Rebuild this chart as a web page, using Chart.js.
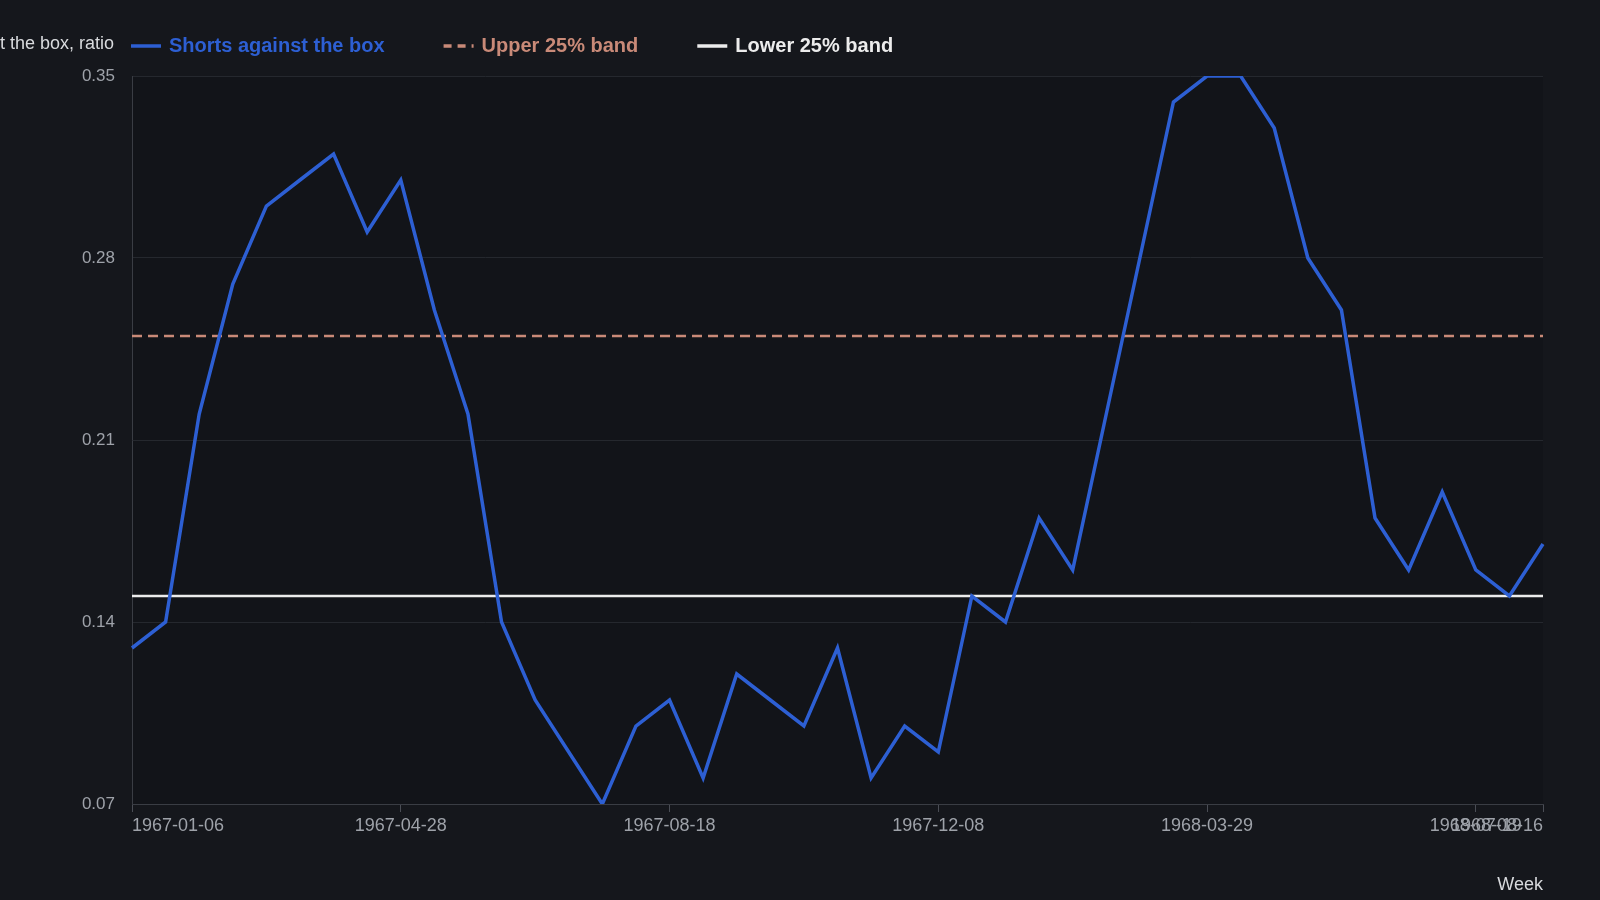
<!DOCTYPE html>
<html>
<head>
<meta charset="utf-8">
<script src="https://cdn.jsdelivr.net/npm/chart.js@4/dist/chart.umd.min.js"></script>
<style>
  html, body { margin: 0; padding: 0; background: #15171c; }
  #wrap { width: 1600px; height: 900px; position: relative; }
</style>
</head>
<body>
<div id="wrap"><canvas id="c"></canvas></div>
<script>
// biweekly observations starting 1967-01-06
const startDate = '1967-01-06';
const shorts = [0.13, 0.14, 0.22, 0.27, 0.30, 0.31, 0.32, 0.29, 0.31, 0.26,
                0.22, 0.14, 0.11, 0.09, 0.07, 0.10, 0.11, 0.08, 0.12, 0.11,
                0.10, 0.13, 0.08, 0.10, 0.09, 0.15, 0.14, 0.18, 0.16, 0.22,
                0.28, 0.34, 0.35, 0.35, 0.33, 0.28, 0.26, 0.18, 0.16, 0.19,
                0.16, 0.15, 0.17];
const upperBand = 0.25;
const lowerBand = 0.15;
const yTicks = [0.07, 0.14, 0.21, 0.28, 0.35];

function fmt(d) { return d.toISOString().slice(0, 10); }
const weeks = shorts.map((_, i) => {
    const d = new Date(startDate + 'T00:00:00Z');
    d.setUTCDate(d.getUTCDate() + 14 * i);
    return fmt(d);
});

const BLUE = '#2d5fd3', ORANGE = '#c98a78', WHITE = '#ececec', TEXT = '#9ea2a9';

const legendItems = [
    { label: 'Shorts against the box', color: BLUE, dash: [] },
    { label: 'Upper 25% band', color: ORANGE, dash: [8, 6] },
    { label: 'Lower 25% band', color: WHITE, dash: [] }
];

const overlay = {
    id: 'overlay',
    beforeDraw(chart) {
        const { ctx, chartArea: a } = chart;
        ctx.save();
        ctx.fillStyle = '#121419';
        ctx.fillRect(a.left, a.top, a.right - a.left, a.bottom - a.top);
        ctx.restore();
    },
    afterDraw(chart) {
        const ctx = chart.ctx;
        ctx.save();
        ctx.font = '18px "Liberation Sans", Arial, sans-serif';
        ctx.fillStyle = '#d8dadd';
        ctx.textAlign = 'right';
        ctx.textBaseline = 'middle';
        ctx.fillText('Shorts against the box, ratio', 114, 44);
        ctx.font = 'bold 20px "Liberation Sans", Arial, sans-serif';
        ctx.textAlign = 'left';
        let x = 131;
        legendItems.forEach(it => {
            ctx.strokeStyle = it.color;
            ctx.lineWidth = 3.5;
            ctx.setLineDash(it.dash);
            ctx.beginPath();
            ctx.moveTo(x, 46); ctx.lineTo(x + 30, 46);
            ctx.stroke();
            ctx.setLineDash([]);
            ctx.fillStyle = it.color;
            ctx.fillText(it.label, x + 38, 46);
            x += 38 + ctx.measureText(it.label).width + 59;
        });
        ctx.restore();
    }
};

new Chart(document.getElementById('c'), {
    type: 'line',
    data: {
        labels: weeks,
        datasets: [
            { label: 'Shorts against the box', data: shorts, borderColor: BLUE, borderWidth: 3.5, pointRadius: 0, tension: 0 },
            { label: 'Upper 25% band', data: weeks.map(() => upperBand), borderColor: ORANGE, borderWidth: 2.5, borderDash: [10, 6], pointRadius: 0 },
            { label: 'Lower 25% band', data: weeks.map(() => lowerBand), borderColor: WHITE, borderWidth: 2.5, pointRadius: 0 }
        ]
    },
    options: {
        responsive: true,
        maintainAspectRatio: false,
        animation: false,
        layout: { padding: { top: 76, right: 57, left: 0, bottom: 0 } },
        plugins: { legend: { display: false }, tooltip: { enabled: false } },
        scales: {
            x: {
                grid: { drawOnChartArea: false, color: '#4a4d55', tickLength: 8 },
                border: { color: '#3a3d44' },
                ticks: {
                    autoSkip: false, maxRotation: 0, align: 'inner',
                    color: TEXT, font: { size: 18, family: '"Liberation Sans", Arial, sans-serif' },
                    callback: (v, i) => (i % 8 === 0 || i === weeks.length - 1) ? weeks[i] : null
                },
                title: { display: true, text: 'Week', align: 'end', color: '#d8dadd', font: { size: 18, family: '"Liberation Sans", Arial, sans-serif' } },
                afterFit: s => { s.height = 96; }
            },
            y: {
                min: 0.07, max: 0.35,
                afterBuildTicks: s => { s.ticks = yTicks.map(v => ({ value: v })); },
                grid: { color: '#25282e', tickLength: 0 },
                border: { color: '#3a3d44' },
                ticks: { color: TEXT, padding: 17, font: { size: 17, family: '"Liberation Sans", Arial, sans-serif' }, callback: v => v.toFixed(2) },
                afterFit: s => { s.width = 132; }
            }
        }
    },
    plugins: [overlay]
});
</script>
</body>
</html>
